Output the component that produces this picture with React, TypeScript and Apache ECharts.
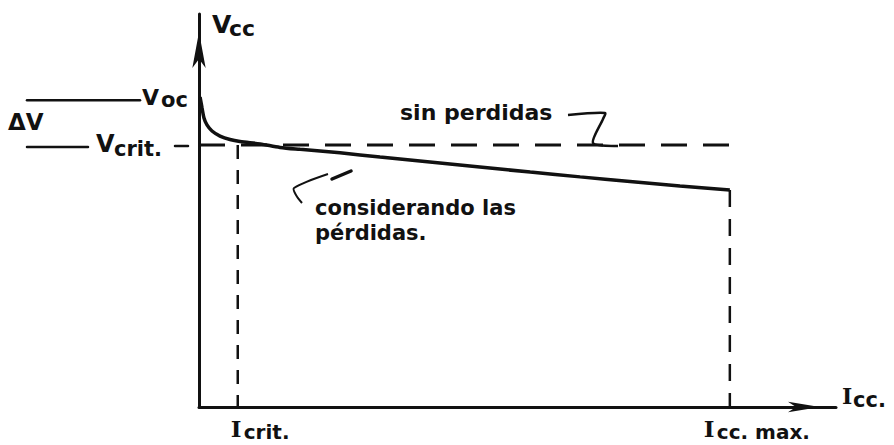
import React, { useEffect, useRef } from 'react';
import * as echarts from 'echarts';

// Axis ranges (arbitrary units)
const I_AXIS_MAX = 120;
const V_AXIS_MAX = 18;

// Characteristic values
const I_CRIT = 7.3;
const I_CC_MAX = 100;
const V_CRIT = 12;
const V_OC = 14.1;

// "considerando las pérdidas" curve
const LOSS_I = [0.2, 0.57, 0.94, 1.5, 2.45, 3.96, 5.84, 7.72, 11.5, 15.26, 19.03, 26.56, 34.1, 43.5, 52.9, 62.4, 71.8, 81.2, 90.6, 100];
const LOSS_V = [14.2, 13.7, 13.24, 12.92, 12.64, 12.41, 12.25, 12.16, 12.05, 11.89, 11.8, 11.64, 11.45, 11.22, 10.99, 10.76, 10.54, 10.33, 10.12, 9.94];

// "sin perdidas" ideal line
const IDEAL_I = [0, 100.5];
const IDEAL_V = [V_CRIT, V_CRIT];

// Texts
const Y_NAME = ['V', 'cc'];
const X_NAME = ['I', 'cc.'];
const VOC_LABEL = ['V', 'oc'];
const VCRIT_LABEL = ['V', 'crit.'];
const DELTA_LABEL = 'ΔV';
const ICRIT_LABEL = ['I', 'crit.'];
const ICCMAX_LABEL = ['I', 'cc. max.'];
const IDEAL_NOTE = 'sin perdidas';
const LOSS_NOTE = 'considerando las\npérdidas.';

const INK = '#111';
const SANS = '"DejaVu Sans", sans-serif';
const SERIF = '"DejaVu Serif", serif';

function txt(x: number, y: number, text: string, size: number, family = SANS, extra: any = {}) {
  return {
    type: 'text',
    x,
    y,
    silent: true,
    ...extra,
    style: {
      text,
      fontSize: size,
      fontFamily: family,
      fontWeight: 'bold',
      fill: INK,
      align: 'left',
      verticalAlign: 'middle',
      ...(extra.style || {}),
    },
  };
}

function seg(x1: number, y1: number, x2: number, y2: number, w = 2.5) {
  return {
    type: 'line',
    silent: true,
    shape: { x1, y1, x2, y2 },
    style: { stroke: INK, lineWidth: w, lineCap: 'round' },
  };
}

export default function App() {
  const ref = useRef<HTMLDivElement>(null);

  useEffect(() => {
    if (!ref.current) return;
    const chart = echarts.init(ref.current, null, { renderer: 'svg' });

    const lossData = LOSS_I.map((i, k) => [i, LOSS_V[k]]);
    const idealData = IDEAL_I.map((i, k) => [i, IDEAL_V[k]]);
    const vEnd = LOSS_V[LOSS_V.length - 1];

    chart.setOption({
      animation: false,
      backgroundColor: '#fff',
      grid: { left: 199, right: 58, top: 14, bottom: 38, containLabel: false },
      xAxis: {
        type: 'value',
        min: 0,
        max: I_AXIS_MAX,
        axisLine: {
          show: true,
          symbol: ['none', 'arrow'],
          symbolSize: [8, 32],
          symbolOffset: [0, -16],
          lineStyle: { color: INK, width: 3 },
        },
        axisTick: { show: false },
        axisLabel: { show: false },
        splitLine: { show: false },
      },
      yAxis: {
        type: 'value',
        min: 0,
        max: V_AXIS_MAX,
        axisLine: {
          show: true,
          symbol: ['none', 'arrow'],
          symbolSize: [10, 36],
          symbolOffset: [0, -18],
          lineStyle: { color: INK, width: 3 },
        },
        axisTick: { show: false },
        axisLabel: { show: false },
        splitLine: { show: false },
      },
      series: [
        {
          name: 'sin perdidas',
          type: 'line',
          data: idealData,
          symbol: 'none',
          lineStyle: { color: INK, width: 3, type: [26, 16] },
          z: 3,
        },
        {
          name: 'considerando las pérdidas',
          type: 'line',
          data: lossData,
          symbol: 'none',
          smooth: 0.3,
          lineStyle: { color: INK, width: 3.5 },
          z: 4,
        },
        {
          name: 'Icrit',
          type: 'line',
          data: [[I_CRIT, V_CRIT], [I_CRIT, 0]],
          symbol: 'none',
          lineStyle: { color: INK, width: 2.5, type: [14, 11] },
          z: 2,
        },
        {
          name: 'Icc max',
          type: 'line',
          data: [[I_CC_MAX, vEnd], [I_CC_MAX, 0]],
          symbol: 'none',
          lineStyle: { color: INK, width: 2.5, type: [17, 12] },
          z: 2,
        },
      ],
    });

    const px = (i: number, v: number) => chart.convertToPixel({ seriesIndex: 0 }, [i, v]) as number[];
    const o = px(0, 0);
    const pOc = px(0, V_OC);
    const pCrit = px(0, V_CRIT);
    const pIc = px(I_CRIT, 0);
    const pImax = px(I_CC_MAX, 0);
    const pTop = px(0, V_AXIS_MAX);
    const pRight = px(I_AXIS_MAX, 0);
    const pIdeal = px(IDEAL_I[1] * 0.72, V_CRIT);
    const pLoss = px(LOSS_I[12], LOSS_V[12]);

    const graphic: any[] = [
      // Vcc
      txt(pTop[0] + 13, pTop[1] + 10, Y_NAME[0], 25),
      txt(pTop[0] + 30, pTop[1] + 14, Y_NAME[1], 22),
      // Icc.
      txt(pRight[0] + 6, pRight[1] - 11, X_NAME[0], 22, SERIF),
      txt(pRight[0] + 17, pRight[1] - 7, X_NAME[1], 21),
      // Voc
      seg(o[0] - 172, pOc[1] + 1, o[0] - 59, pOc[1] + 1),
      txt(o[0] - 57, pOc[1] - 2, VOC_LABEL[0], 22),
      txt(o[0] - 38, pOc[1] + 1, VOC_LABEL[1], 21),
      // ΔV
      txt(o[0] - 191, (pOc[1] + pCrit[1]) / 2, DELTA_LABEL, 23),
      // Vcrit.
      seg(o[0] - 172, pCrit[1] + 2, o[0] - 111, pCrit[1] + 2),
      txt(o[0] - 103, pCrit[1] - 1, VCRIT_LABEL[0], 24),
      txt(o[0] - 85, pCrit[1] + 4, VCRIT_LABEL[1], 21),
      seg(o[0] - 24, pCrit[1] + 1, o[0] - 11, pCrit[1] + 1, 2.5),
      // Icrit.
      txt(pIc[0] - 7, o[1] + 21, ICRIT_LABEL[0], 23, SERIF),
      txt(pIc[0] + 6, o[1] + 25, ICRIT_LABEL[1], 20),
      // Icc. max.
      txt(pImax[0] - 26, o[1] + 21, ICCMAX_LABEL[0], 23, SERIF),
      txt(pImax[0] - 13, o[1] + 25, ICCMAX_LABEL[1], 20),
      // sin perdidas note
      txt(400, 112, IDEAL_NOTE, 22),
      {
        type: 'polyline',
        silent: true,
        shape: { points: [[568, 115], [605, 113], [603, 119], [593, 143], [618, pIdeal[1] + 1]], smooth: 0.25 },
        style: { stroke: INK, lineWidth: 2.5, fill: 'none' },
      },
      // considerando las pérdidas note
      txt(315, 220, LOSS_NOTE, 21, SANS, { style: { lineHeight: 25 } }),
      seg(pLoss[0] - 29, pLoss[1] + 14, pLoss[0] - 48, pLoss[1] + 22, 3.5),
      {
        type: 'polyline',
        silent: true,
        shape: { points: [[328, 174], [294, 188], [296, 195], [302, 203]], smooth: 0.3 },
        style: { stroke: INK, lineWidth: 2, fill: 'none' },
      },
    ];

    chart.setOption({ graphic });

    return () => chart.dispose();
  }, []);

  return (
    <div
      ref={ref}
      style={{ position: 'fixed', left: 0, top: 0, width: 894, height: 445, background: '#fff' }}
    />
  );
}
